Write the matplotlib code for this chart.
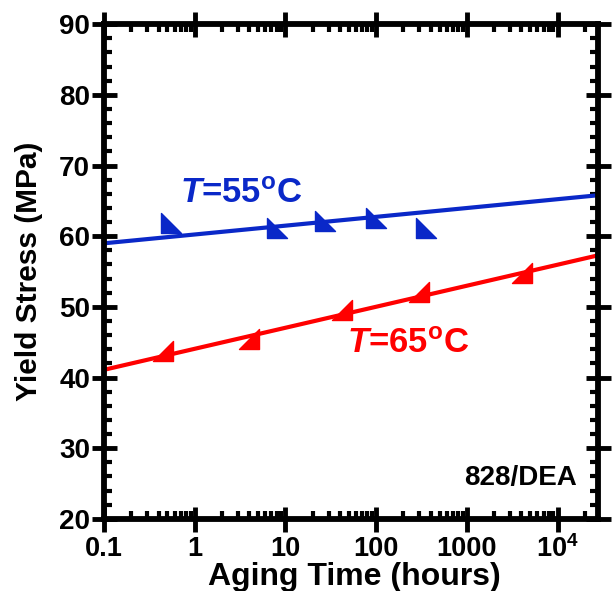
import matplotlib
matplotlib.use("Agg")
import matplotlib.pyplot as plt
import numpy as np
from matplotlib.path import Path
from matplotlib.ticker import LogLocator, FixedLocator, FixedFormatter, MultipleLocator, NullFormatter

plt.rcParams['font.family'] = ['Liberation Sans', 'DejaVu Sans']
plt.rcParams['font.weight'] = 'bold'
plt.rcParams['mathtext.fontset'] = 'custom'
plt.rcParams['mathtext.rm'] = 'Liberation Sans:bold'
plt.rcParams['mathtext.it'] = 'Liberation Sans:bold:italic'
plt.rcParams['mathtext.bf'] = 'Liberation Sans:bold'

# Data
blue_t = [0.55, 8, 27, 100, 350]
blue_y = [61.9, 61.15, 62.1, 62.55, 61.15]
red_t = [0.45, 4, 42, 300, 4100]
red_y = [43.75, 45.45, 49.55, 52.1, 54.8]
fit_t = [0.1, 2.8e4]
blue_fit = [59.0, 65.8]
red_fit = [41.1, 57.3]
xticks = [0.1, 1, 10, 100, 1000, 1e4]
xticklabels = ['0.1', '1', '10', '100', '1000', r'10$^{4}$']
yticks = [20, 30, 40, 50, 60, 70, 80, 90]

blue = '#0a28c8'
red = '#ff0000'

m_blue = Path([(-1, 1), (-1, -1), (1, -1), (-1, 1)], [Path.MOVETO, Path.LINETO, Path.LINETO, Path.CLOSEPOLY])
m_red = Path([(1, 1), (1, -1), (-1, -1), (1, 1)], [Path.MOVETO, Path.LINETO, Path.LINETO, Path.CLOSEPOLY])

fig = plt.figure(figsize=(6.16, 5.91), dpi=100)
ax = fig.add_axes([0.169, 0.122, 0.802, 0.837])

ax.plot(fit_t, blue_fit, color=blue, lw=3, solid_capstyle='butt')
ax.plot(fit_t, red_fit, color=red, lw=3, solid_capstyle='butt')
ax.plot(blue_t, blue_y, ls='none', marker=m_blue, ms=15, color=blue, mec=blue)
ax.plot(red_t, red_y, ls='none', marker=m_red, ms=15, color=red, mec=red)

ax.set_xscale('log')
ax.set_xlim(0.1, 2.8e4)
ax.set_ylim(20, 90)
ax.xaxis.set_major_locator(FixedLocator(xticks))
ax.xaxis.set_major_formatter(FixedFormatter(xticklabels))
ax.xaxis.set_minor_locator(LogLocator(base=10, subs=np.arange(2, 10), numticks=20))
ax.xaxis.set_minor_formatter(NullFormatter())
ax.yaxis.set_major_locator(FixedLocator(yticks))
ax.yaxis.set_minor_locator(MultipleLocator(2))

for s in ax.spines.values():
    s.set_linewidth(4.2)
ax.tick_params(which='major', direction='inout', length=18, width=3.5, top=True, right=True, labelsize=20)
ax.tick_params(axis='x', which='major', pad=3, labelsize=19.5)
ax.tick_params(axis='y', which='major', pad=1)
ax.tick_params(which='minor', direction='in', length=5.5, width=3, top=True, right=True)
for lab in ax.get_xticklabels() + ax.get_yticklabels():
    lab.set_fontweight('bold')

ax.set_xlabel('Aging Time (hours)', fontsize=23, fontweight='bold', va='baseline')
ax.xaxis.set_label_coords(0.506, -0.134)
ax.set_ylabel('Yield Stress (MPa)', fontsize=21.5, fontweight='bold', va='center')
ax.yaxis.set_label_coords(-0.152, 0.5)

ax.text(0.69, 64.7, r'$\mathit{T}$=55$^{\mathrm{o}}$C', color=blue, fontsize=25, fontweight='bold', ha='left', va='baseline')
ax.text(48, 43.5, r'$\mathit{T}$=65$^{\mathrm{o}}$C', color=red, fontsize=25, fontweight='bold', ha='left', va='baseline')
ax.text(0.957, 0.069, '828/DEA', transform=ax.transAxes, fontsize=20, fontweight='bold', ha='right', va='baseline')

fig.savefig('out.png', dpi=100)
